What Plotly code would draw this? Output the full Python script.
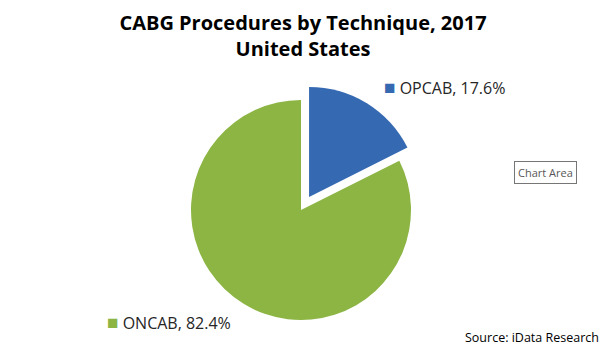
import plotly.graph_objects as go

labels = ["OPCAB", "ONCAB"]
values = [17.6, 82.4]
colors = ["#3569B2", "#8CB544"]
pulls = [0.14, 0]

W, H = 606, 351
cx, cy, r = 301, 210, 110
maxpull = max(pulls)
half = r * (1 + maxpull)

fig = go.Figure(go.Pie(
    labels=labels, values=values, sort=False, direction="clockwise", rotation=0,
    marker=dict(colors=colors, line=dict(width=0)),
    pull=pulls, textinfo="none", hoverinfo="skip", showlegend=False,
    domain=dict(x=[(cx - half) / W, (cx + half) / W],
                y=[(H - cy - half) / H, (H - cy + half) / H]),
))

font = "Open Sans"
anns = []
label_pos = [(382, 87), (105, 322)]
for (lab, val, col, (x, y)) in zip(labels, values, colors, label_pos):
    anns.append(dict(x=x / W, y=1 - y / H, xref="paper", yref="paper", xanchor="left", yanchor="middle",
                     showarrow=False,
                     text=f"<span style='color:{col};font-size:19px'>■</span> {lab}, {val}%",
                     font=dict(family=font, size=16, color="#262626")))
anns.append(dict(x=601 / W, y=1 - 337 / H, xref="paper", yref="paper", xanchor="right", yanchor="middle",
                 showarrow=False, text="Source: iData Research",
                 font=dict(family=font, size=12.5, color="#000000")))
anns.append(dict(x=514 / W, y=1 - 173 / H, xref="paper", yref="paper", xanchor="left", yanchor="middle",
                 showarrow=False, text="Chart Area", bordercolor="#767676", borderwidth=1,
                 bgcolor="#ffffff", borderpad=3,
                 font=dict(family=font, size=11, color="#575757")))

fig.update_layout(
    width=W, height=H, margin=dict(l=0, r=0, t=0, b=0),
    paper_bgcolor="white", plot_bgcolor="white",
    title=dict(text="<b>CABG Procedures by Technique, 2017<br>United States</b>",
               x=0.5, xanchor="center", y=1 - 30 / H, yanchor="middle",
               font=dict(family=font, size=20, color="#000000")),
    annotations=anns,
)
fig.write_html("out.html")
